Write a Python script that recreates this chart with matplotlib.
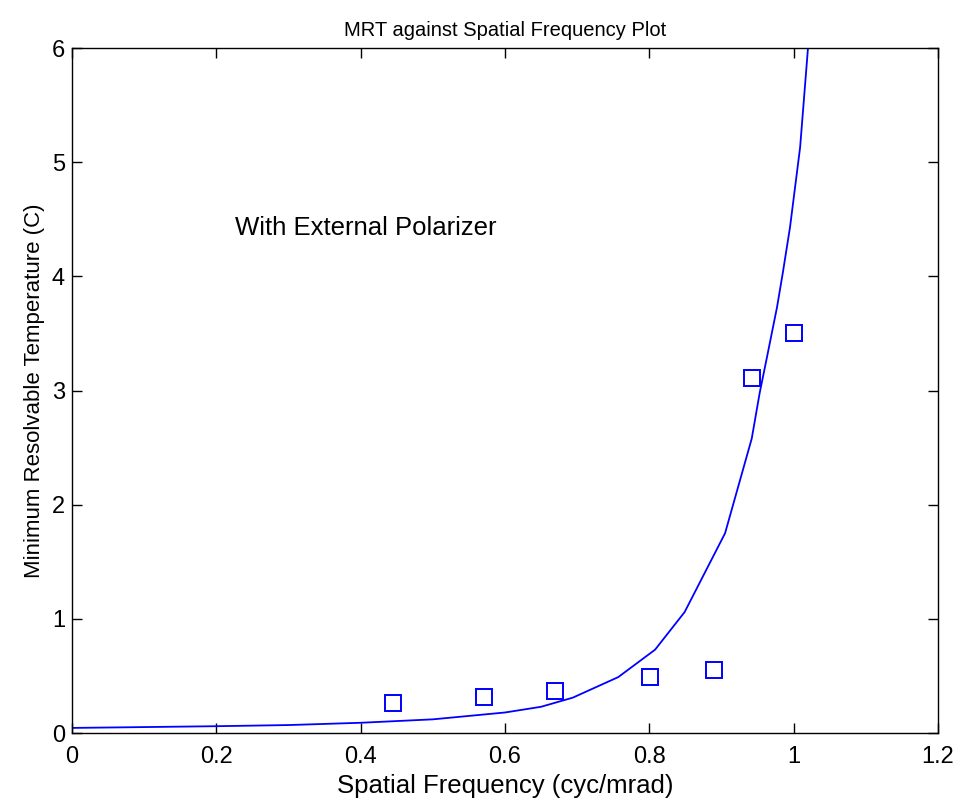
import matplotlib
matplotlib.use("Agg")
import matplotlib.pyplot as plt

# model curve
curve_x = [0.0, 0.07, 0.2, 0.3, 0.4, 0.5, 0.55, 0.6, 0.65, 0.694, 0.757, 0.808, 0.849,
           0.905, 0.942, 0.953, 0.963, 0.977, 0.985, 0.995, 1.002, 1.009, 1.05]
curve_y = [0.045, 0.05, 0.06, 0.07, 0.09, 0.12, 0.15, 0.18, 0.23, 0.31, 0.49, 0.73, 1.06,
           1.75, 2.58, 2.98, 3.29, 3.73, 4.03, 4.43, 4.78, 5.13, 8.4]

# measured points
meas_x = [0.445, 0.571, 0.669, 0.801, 0.89, 0.943, 1.0]
meas_y = [0.265, 0.32, 0.37, 0.49, 0.55, 3.11, 3.5]

plt.rcParams['font.family'] = ['Liberation Sans', 'DejaVu Sans']

fig = plt.figure(figsize=(9.62, 8.1), dpi=100)
ax = fig.add_axes([0.0748, 0.095, 0.9002, 0.8457])

ax.plot(curve_x, curve_y, color='#0000ff', linewidth=1.3)
ax.plot(meas_x, meas_y, linestyle='none', marker='s', markersize=11,
        markerfacecolor='none', markeredgecolor='#0000ff', markeredgewidth=1.4)

ax.text(0.226, 4.42, 'With External Polarizer', fontsize=18.5, va='center')

ax.set_xlim(0, 1.2)
ax.set_ylim(0, 6)
ax.set_xticks([0, 0.2, 0.4, 0.6, 0.8, 1, 1.2])
ax.set_xticklabels(['0', '0.2', '0.4', '0.6', '0.8', '1', '1.2'])
ax.set_yticks([0, 1, 2, 3, 4, 5, 6])
ax.tick_params(direction='in', top=True, right=True, labelsize=17, length=7, width=1, pad=5)
ax.tick_params(axis='x', pad=9)
for s in ax.spines.values():
    s.set_linewidth(1)

ax.set_title('MRT against Spatial Frequency Plot', fontsize=14.5, pad=9)
ax.set_xlabel('Spatial Frequency (cyc/mrad)', fontsize=18.5, labelpad=5)
ax.set_ylabel('Minimum Resolvable Temperature (C)', fontsize=16, labelpad=5)

fig.savefig('out.png', dpi=100)
